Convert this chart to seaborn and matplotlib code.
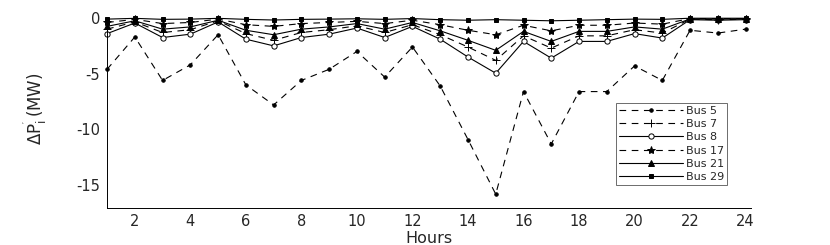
import numpy as np
import pandas as pd
import matplotlib
matplotlib.use('Agg')
import matplotlib.pyplot as plt
import seaborn as sns

# values (MW), hours 1..24
hours = list(range(1, 25))
bus5 = [-4.6, -1.7, -5.6, -4.2, -1.5, -6.0, -7.8, -5.6, -4.6, -3.0, -5.3, -2.6,
        -6.1, -10.9, -15.8, -6.6, -11.3, -6.6, -6.6, -4.3, -5.6, -1.1, -1.35, -1.0]
bus7 = [-1.0, -0.35, -1.3, -1.05, -0.25, -1.4, -2.0, -1.3, -1.05, -0.7, -1.3, -0.6,
        -1.5, -2.6, -3.8, -1.6, -2.7, -1.6, -1.6, -1.05, -1.35, -0.1, -0.15, -0.1]
bus8 = [-1.4, -0.45, -1.75, -1.45, -0.35, -1.9, -2.5, -1.75, -1.45, -0.9, -1.75, -0.75,
        -1.9, -3.5, -4.95, -2.1, -3.6, -2.1, -2.1, -1.4, -1.8, -0.15, -0.2, -0.15]
bus17 = [-0.4, -0.12, -0.5, -0.4, -0.1, -0.6, -0.75, -0.5, -0.4, -0.3, -0.5, -0.2,
         -0.6, -1.1, -1.5, -0.65, -1.15, -0.65, -0.65, -0.45, -0.55, -0.05, -0.05, -0.05]
bus21 = [-0.75, -0.25, -1.0, -0.8, -0.2, -1.1, -1.5, -1.0, -0.8, -0.5, -1.0, -0.4,
         -1.15, -2.0, -2.9, -1.2, -2.1, -1.2, -1.2, -0.8, -1.0, -0.08, -0.1, -0.08]
bus29 = [-0.1, -0.03, -0.12, -0.1, -0.03, -0.12, -0.18, -0.12, -0.1, -0.07, -0.12, -0.05,
         -0.15, -0.2, -0.15, -0.2, -0.25, -0.2, -0.15, -0.1, -0.12, -0.02, -0.02, -0.02]

labels = ['Bus 5', 'Bus 7', 'Bus 8', 'Bus 17', 'Bus 21', 'Bus 29']
x_ticks = list(range(2, 25, 2))
y_ticks = [0, -5, -10, -15]

sns.set_style('white')
plt.rcParams['font.family'] = ['DejaVu Sans']
plt.rcParams['mathtext.default'] = 'regular'
plt.rcParams['axes.unicode_minus'] = False

df = pd.DataFrame({'hour': hours, 'Bus 5': bus5, 'Bus 7': bus7, 'Bus 8': bus8,
                   'Bus 17': bus17, 'Bus 21': bus21, 'Bus 29': bus29})

dash = (0, (6, 5))
styles = {
    'Bus 5': dict(marker='.', ms=5, linestyle=dash),
    'Bus 7': dict(marker='+', ms=5.5, linestyle=dash),
    'Bus 8': dict(marker='o', ms=3.8, mfc='white', linestyle='-'),
    'Bus 17': dict(marker='*', ms=6, linestyle=dash),
    'Bus 21': dict(marker='^', ms=3.8, linestyle='-'),
    'Bus 29': dict(marker='s', ms=2.8, linestyle='-'),
}

fig = plt.figure(figsize=(8.3, 2.45), dpi=100)
ax = fig.add_axes([0.129, 0.153, 0.776, 0.7735])

for name in labels:
    st = styles[name]
    sns.lineplot(data=df, x='hour', y=name, ax=ax, color='black', lw=0.8,
                 mec='black', mew=0.7, label=name, clip_on=False, **st)

ax.set_xlim(1, 24.2)
ax.set_ylim(-17, 0)
ax.set_xticks(x_ticks)
ax.set_yticks(y_ticks)
ax.tick_params(direction='in', length=3, width=0.6, labelsize=10.5, pad=5)
sns.despine(ax=ax)
for s in ['left', 'bottom']:
    ax.spines[s].set_linewidth(0.7)
    ax.spines[s].set_color('black')

ax.set_xlabel('Hours', fontsize=11.5, labelpad=1)
ax.set_ylabel(r"$\Delta P_{i}^{'}\,(MW)$", fontsize=12)
ax.yaxis.set_label_coords(-0.088, 0.52)

leg = ax.legend(loc='lower right', bbox_to_anchor=(0.963, 0.119), fontsize=8,
                handlelength=5.8, numpoints=1, fancybox=False, framealpha=1,
                edgecolor='#555555', borderpad=0.25, labelspacing=0.3,
                handletextpad=0.3, borderaxespad=0)
leg.get_frame().set_linewidth(0.6)

fig.savefig('out.png', dpi=100)
